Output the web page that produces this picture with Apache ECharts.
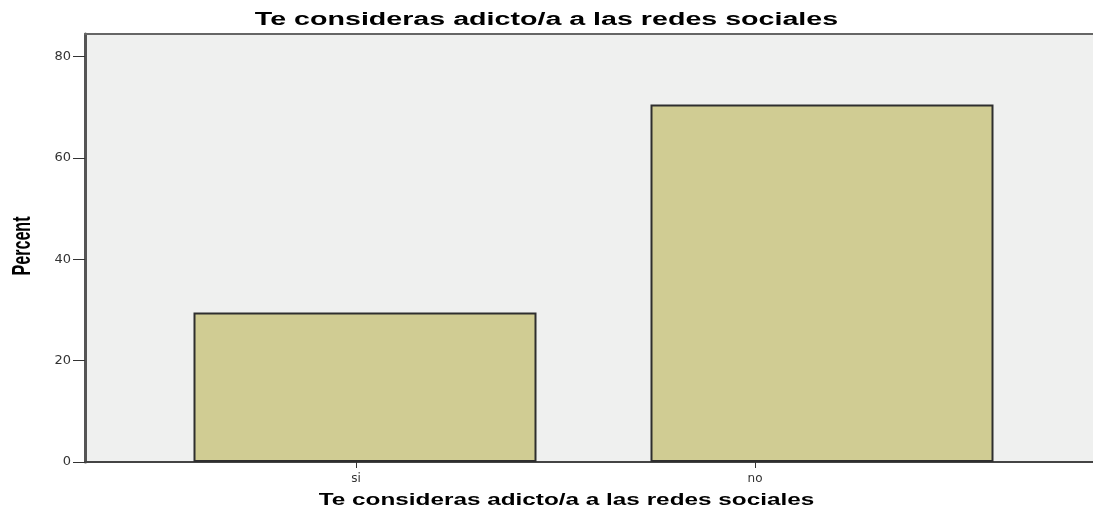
<!DOCTYPE html>
<html>
<head>
<meta charset="utf-8">
<script src="https://cdn.jsdelivr.net/npm/echarts@6/dist/echarts.min.js"></script>
<style>
html,body{margin:0;padding:0;background:#fff;}
#chart{width:1093px;height:512px;}
</style>
</head>
<body>
<div id="chart"></div>
<script>
const chartTitle = 'Te consideras adicto/a a las redes sociales';
const xAxisTitle = 'Te consideras adicto/a a las redes sociales';
const yAxisTitle = 'Percent';
const categories = ['si', 'no'];
const percentValues = [29.5, 70.5];
const yMin = 0;
const yTickMax = 80;
const yAxisMax = 84.4;
const yInterval = 20;

const chart = echarts.init(document.getElementById('chart'), null, {renderer: 'canvas'});
const option = {
  animation: false,
  backgroundColor: '#ffffff',
  grid: [
    {left: 85, top: 34, right: -10, bottom: 50, show: true, backgroundColor: '#eff0ef', borderWidth: 0},
    {left: 136.5, top: 34, width: 914, bottom: 50},
    {left: 156.5, top: 34, width: 798, bottom: 50},
    {left: 85, top: 56.4, right: -10, bottom: 50}
  ],
  xAxis: [
    {gridIndex: 0, type: 'category', data: categories, position: 'bottom',
     axisLine: {show: true, lineStyle: {color: '#444', width: 2}}, axisTick: {show: false}, axisLabel: {show: false}},
    {gridIndex: 0, type: 'category', data: categories, position: 'top',
     axisLine: {show: true, lineStyle: {color: '#666', width: 2}}, axisTick: {show: false}, axisLabel: {show: false}},
    {gridIndex: 1, type: 'category', data: categories, show: false},
    {gridIndex: 2, type: 'category', data: categories, position: 'bottom',
     axisLine: {show: false},
     axisTick: {show: true, alignWithLabel: true, length: 6, lineStyle: {color: '#333', width: 1}},
     axisLabel: {margin: 11, color: '#333', fontSize: 12, fontFamily: 'DejaVu Sans'}},
    {gridIndex: 3, type: 'category', data: categories, show: false}
  ],
  yAxis: [
    {gridIndex: 0, type: 'value', min: yMin, max: yAxisMax,
     axisLine: {show: true, lineStyle: {color: '#555', width: 3}}, axisTick: {show: false}, axisLabel: {show: false}, splitLine: {show: false}},
    {gridIndex: 1, type: 'value', min: yMin, max: yAxisMax, show: false, splitLine: {show: false}},
    {gridIndex: 2, type: 'value', min: yMin, max: yAxisMax, show: false, splitLine: {show: false}},
    {gridIndex: 3, type: 'value', min: yMin, max: yTickMax, interval: yInterval,
     axisLine: {show: false},
     axisTick: {show: true, length: 12, lineStyle: {color: '#333', width: 1}},
     axisLabel: {margin: 14, color: '#333', fontSize: 13, fontFamily: 'DejaVu Sans'},
     splitLine: {show: false}}
  ],
  series: [
    {type: 'bar', xAxisIndex: 2, yAxisIndex: 1, data: percentValues, barWidth: 343,
     itemStyle: {color: '#d0cc93', borderColor: '#2e2e2e', borderWidth: 2}}
  ],
  graphic: [
    {type: 'text', x: 546.5, y: 20, scaleX: 1.59, z: 10,
     style: {text: chartTitle, font: 'bold 18px "Liberation Sans", Arial, sans-serif', fill: '#000', align: 'center', verticalAlign: 'middle'}},
    {type: 'text', x: 566.5, y: 500, scaleX: 1.43, z: 10,
     style: {text: xAxisTitle, font: 'bold 17px "Liberation Sans", Arial, sans-serif', fill: '#000', align: 'center', verticalAlign: 'middle'}},
    {type: 'text', x: 23, y: 246, rotation: Math.PI / 2, scaleX: 0.62, z: 10,
     style: {text: yAxisTitle, font: 'bold 26px "Liberation Sans", Arial, sans-serif', fill: '#000', align: 'center', verticalAlign: 'middle'}}
  ]
};
chart.setOption(option);
</script>
</body>
</html>
